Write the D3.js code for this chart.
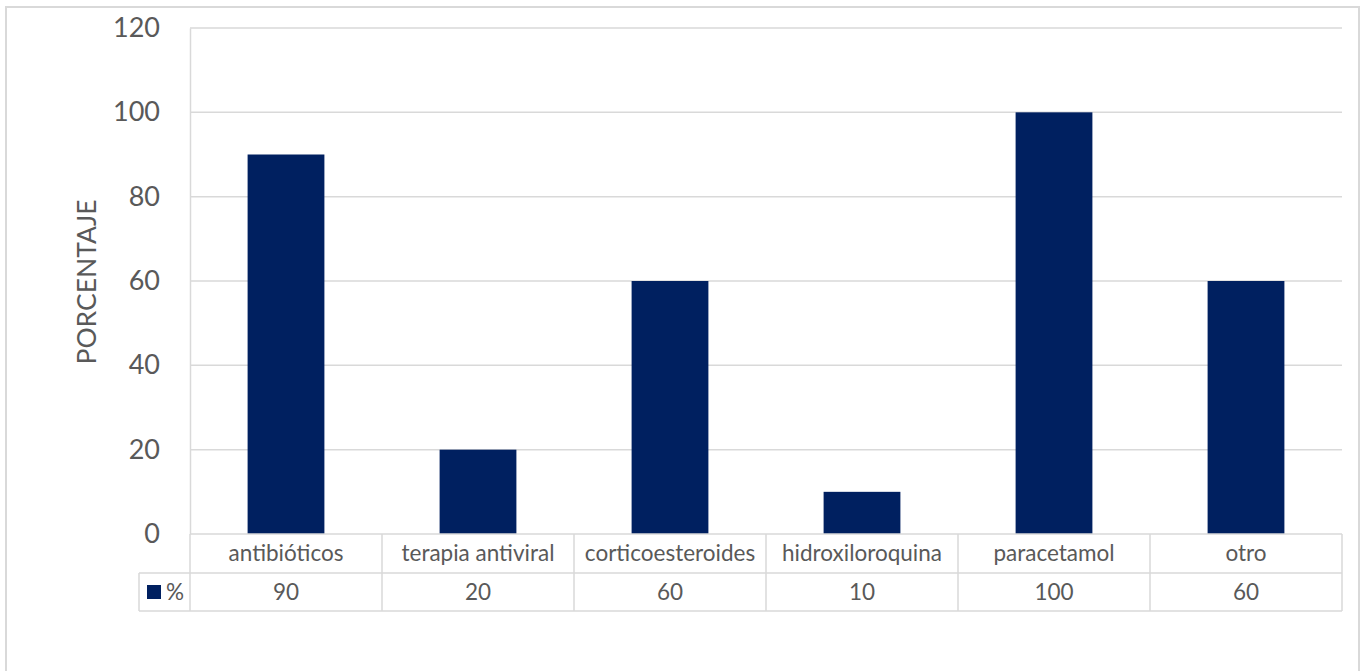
<!DOCTYPE html>
<html><head><meta charset="utf-8">
<script src="https://cdn.jsdelivr.net/npm/d3@7"></script>
<style>html,body{margin:0;padding:0;background:#fff;}svg{display:block;}</style>
</head><body>
<svg id="chart" width="1360" height="671"></svg>
<script>
const categories = ["antibióticos","terapia antiviral","corticoesteroides","hidroxiloroquina","paracetamol","otro"];
const values = [90,20,60,10,100,60];
const seriesName = "%";
const yTicks = [0,20,40,60,80,100,120];
const yTitle = "PORCENTAJE";

(function(){
const svg = d3.select("#chart");
const grid = "#d9d9d9", txt = "#595959", barColor = "#002060";
const pLeft = 190, pRight = 1342, pTop = 28, pBottom = 534;
const row1 = 573, row2 = 611, legendLeft = 139;
const font = "Lato, 'Open Sans', sans-serif";

// outer border
svg.append("rect").attr("x",6).attr("y",7).attr("width",1353).attr("height",680)
  .attr("fill","#fff").attr("stroke",grid).attr("stroke-width",2);

const x = d3.scaleBand().domain(categories).range([pLeft,pRight]).paddingInner(0.6).paddingOuter(0.3);
const xCol = d3.scaleBand().domain(categories).range([pLeft,pRight]);
const y = d3.scaleLinear().domain([0,120]).range([pBottom,pTop]);

// gridlines
svg.append("g").selectAll("line").data(yTicks.filter(t=>t>0)).join("line")
  .attr("x1",pLeft).attr("x2",pRight).attr("y1",d=>y(d)).attr("y2",d=>y(d))
  .attr("stroke",grid).attr("stroke-width",1.5);

// y axis
const yAxis = d3.axisLeft(y).tickValues(yTicks).tickSize(0).tickPadding(30);
const ga = svg.append("g").attr("transform",`translate(${pLeft},0)`).call(yAxis);
ga.select(".domain").attr("stroke",grid).attr("stroke-width",1.5);
ga.selectAll("text").attr("font-family",font).attr("font-size",27).attr("fill",txt);

// y title
svg.append("text").attr("transform",`translate(96,282) rotate(-90)`).attr("text-anchor","middle")
  .attr("font-family",font).attr("font-size",26.5).attr("fill",txt).text(yTitle);

// bars
svg.append("g").selectAll("rect").data(values).join("rect")
  .attr("x",(d,i)=>x(categories[i])).attr("width",x.bandwidth())
  .attr("y",d=>y(d)).attr("height",d=>y(0)-y(d)).attr("fill",barColor);

// table
const tg = svg.append("g").attr("stroke",grid).attr("stroke-width",1.5);
tg.append("line").attr("x1",pLeft).attr("x2",pRight).attr("y1",pBottom).attr("y2",pBottom);
tg.append("line").attr("x1",legendLeft).attr("x2",pRight).attr("y1",row1).attr("y2",row1);
tg.append("line").attr("x1",legendLeft).attr("x2",pRight).attr("y1",row2).attr("y2",row2);
tg.append("line").attr("x1",legendLeft).attr("x2",legendLeft).attr("y1",row1).attr("y2",row2);
const bounds = categories.map(c=>xCol(c)).concat([pRight]);
tg.selectAll(".vb").data(bounds).join("line").attr("class","vb")
  .attr("x1",d=>d).attr("x2",d=>d).attr("y1",pBottom).attr("y2",row2);

svg.append("g").selectAll("text").data(categories).join("text")
  .attr("x",d=>xCol(d)+xCol.bandwidth()/2).attr("y",(pBottom+row1)/2).attr("dy","0.35em")
  .attr("text-anchor","middle").attr("font-family",font).attr("font-size",22.5).attr("fill",txt).text(d=>d);
svg.append("g").selectAll("text").data(values).join("text")
  .attr("x",(d,i)=>xCol(categories[i])+xCol.bandwidth()/2).attr("y",(row1+row2)/2).attr("dy","0.35em")
  .attr("text-anchor","middle").attr("font-family",font).attr("font-size",22.5).attr("fill",txt).text(d=>d);

// legend key
svg.append("rect").attr("x",147).attr("y",585).attr("width",14).attr("height",14).attr("fill",barColor);
svg.append("text").attr("x",166).attr("y",(row1+row2)/2).attr("dy","0.35em")
  .attr("font-family",font).attr("font-size",22.5).attr("fill",txt).text(seriesName);
})();
</script>
</body></html>
